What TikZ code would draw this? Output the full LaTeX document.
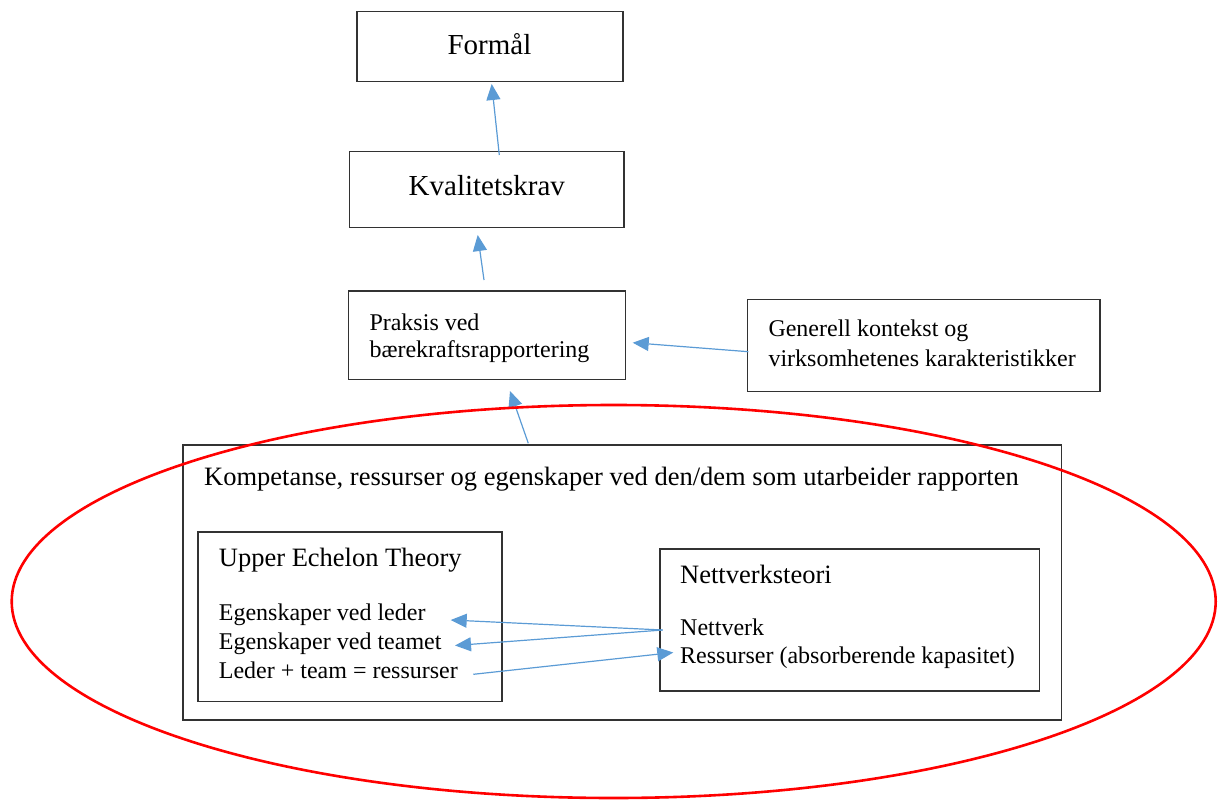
\documentclass[tikz,border=0pt]{standalone}
\usepackage{fontspec}
\setmainfont{Liberation Serif}
\usetikzlibrary{arrows.meta}
\definecolor{arrowblue}{RGB}{91,155,213}
\definecolor{boxline}{RGB}{50,50,50}
\tikzset{
  box/.style={draw=boxline, line width=1.3pt, rectangle, inner sep=0pt},
  txt/.style={inner sep=0pt, anchor=base west, font=\fontsize{24}{29}\selectfont},
  txtmid/.style={inner sep=0pt, anchor=base west, font=\fontsize{26.5}{32}\selectfont},
  txtbig/.style={inner sep=0pt, anchor=base, font=\fontsize{29}{35}\selectfont},
  conn/.style={draw=arrowblue, line width=1.2pt, -{Triangle[length=16pt,width=14pt]}},
  redoval/.style={draw=red, line width=2.6pt}
}
\begin{document}
\begin{tikzpicture}[x=1pt,y=-1pt]
\useasboundingbox (0,0) rectangle (1221,800);
% boxes
\node[box, minimum width=266pt, minimum height=70.5pt] (formal) at (490,46.5) {};
\node[box, minimum width=274.7pt, minimum height=75.6pt] (kval) at (486.7,189.5) {};
\node[box, minimum width=277.4pt, minimum height=88.3pt] (praksis) at (487,335.2) {};
\node[box, minimum width=352.7pt, minimum height=92.4pt] (generell) at (923.6,345.5) {};
\node[box, minimum width=878.7pt, minimum height=275pt] (big) at (622.3,582.5) {};
\node[box, minimum width=304pt, minimum height=169.7pt] (upper) at (350,616.8) {};
\node[box, minimum width=379.3pt, minimum height=142pt] (nett) at (849.6,620) {};
% texts
\node[txtbig] (tformal) at (489.5,55) {Formål};
\node[txtbig] (tkval) at (486.8,195) {Kvalitetskrav};
\node[txt] (tpr1) at (369.3,330) {Praksis ved};
\node[txt] (tpr2) at (369.3,357.7) {bærekraftsrapportering};
\node[txt] (tge1) at (768.3,336.7) {Generell kontekst og};
\node[txt] (tge2) at (768.3,366) {virksomhetenes karakteristikker};
\node[txtmid] (tbig) at (204,485.5) {Kompetanse, ressurser og egenskaper ved den/dem som utarbeider rapporten};
\node[txtmid] (tup) at (218.7,566) {Upper Echelon Theory};
\node[txt] (tup1) at (218.7,620) {Egenskaper ved leder};
\node[txt] (tup2) at (218.7,649) {Egenskaper ved teamet};
\node[txt] (tup3) at (218.7,678.3) {Leder + team = ressurser};
\node[txtmid] (tne) at (680,583.3) {Nettverksteori};
\node[txt] (tne1) at (680,635) {Nettverk};
\node[txt] (tne2) at (680,663.3) {Ressurser (absorberende kapasitet)};
% connector end points
\coordinate (a1s) at (499.3,155);
\coordinate (a1e) at (491.7,84);
\coordinate (a2s) at (484,280);
\coordinate (a2e) at (477.7,235);
\coordinate (a3s) at (748.3,351.7);
\coordinate (a3e) at (632.7,342.7);
\coordinate (a4s) at (528.3,443.3);
\coordinate (a4e) at (510,391);
\coordinate (a5s) at (662.7,630);
\coordinate (a5e) at (450.7,620);
\coordinate (a6e) at (455,645.5);
\coordinate (a7s) at (473.3,674.3);
\coordinate (a7e) at (673.3,652.5);
% connectors
\draw[conn] (a1s) -- (a1e);
\draw[conn] (a2s) -- (a2e);
\draw[conn] (a3s) -- (a3e);
\draw[conn] (a4s) -- (a4e);
\draw[conn] (a5s) -- (a5e);
\draw[conn] (a5s) -- (a6e);
\draw[conn] (a7s) -- (a7e);
% red ellipse
\coordinate (oc) at (613.7,601.5);
\draw[redoval] (oc) ellipse [x radius=602pt, y radius=196.5pt];
\end{tikzpicture}
\end{document}
